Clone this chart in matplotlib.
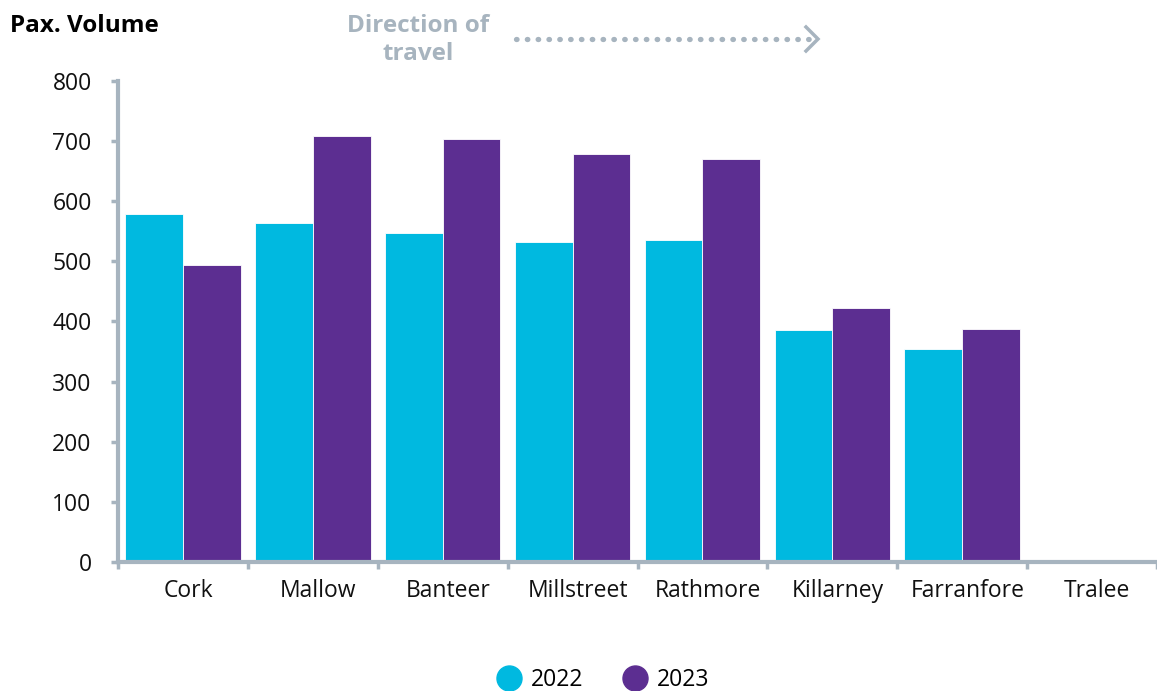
import matplotlib
matplotlib.use("Agg")
import matplotlib.pyplot as plt
from matplotlib.lines import Line2D
import numpy as np

categories = ["Cork", "Mallow", "Banteer", "Millstreet", "Rathmore", "Killarney", "Farranfore", "Tralee"]
vol_2022 = [579, 563, 548, 533, 536, 386, 355, 0]
vol_2023 = [494, 708, 703, 679, 671, 423, 388, 0]
series_labels = ["2022", "2023"]
yticks = [0, 100, 200, 300, 400, 500, 600, 700, 800]

c22 = "#00b9e0"
c23 = "#5c2e91"
grey = "#a7b4bf"

plt.rcParams['font.family'] = ['Open Sans', 'DejaVu Sans']

fig = plt.figure(figsize=(11.57, 6.91), dpi=100)
ax = fig.add_axes([0.102, 0.1867, 0.898, 0.6961])

x = np.arange(len(categories)) + 0.5
w = 0.445
ax.bar(x - w / 2, vol_2022, width=w, color=c22, edgecolor="white", linewidth=0.6, label=series_labels[0])
ax.bar(x + w / 2, vol_2023, width=w, color=c23, edgecolor="white", linewidth=0.6, label=series_labels[1])

ax.set_xlim(0, len(categories))
ax.set_ylim(0, 800)
ax.set_yticks(yticks)
ax.set_yticklabels([str(v) for v in yticks], fontsize=16.5, color="#111111")
ax.set_xticks(np.arange(len(categories) + 1))
ax.set_xticklabels([])
ax.set_xticks(x + 0.04, minor=True)
ax.set_xticklabels(categories, minor=True, fontsize=16.5, color="#111111")
ax.tick_params(axis="x", which="minor", length=0, pad=12)
ax.tick_params(axis="x", which="major", length=5, width=2.5, color=grey, direction="out")
ax.tick_params(axis="y", length=5, width=2.5, color=grey, direction="out", pad=14)

for s in ["top", "right"]:
    ax.spines[s].set_visible(False)
for s in ["left", "bottom"]:
    ax.spines[s].set_color(grey)
    ax.spines[s].set_linewidth(3)

# Titles
fig.text(10 / 1157, 1 - 26 / 691, "Pax. Volume", fontsize=17.5, fontweight="bold", color="#000000",
         ha="left", va="center")
fig.text(418 / 1157, 1 - 40 / 691, "Direction of\ntravel", fontsize=17.5, fontweight="bold", color=grey,
         ha="center", va="center", linespacing=1.2)

# Dotted arrow
W, H = 1157, 691
ln = Line2D([516 / W, 812 / W], [1 - 39 / H, 1 - 39 / H], transform=fig.transFigure,
            color=grey, linewidth=3.8, linestyle=(0, (0.1, 1.95)), dash_capstyle="round")
fig.add_artist(ln)
head = Line2D([806 / W, 818 / W, 806 / W], [1 - 27 / H, 1 - 39 / H, 1 - 51 / H], transform=fig.transFigure,
              color=grey, linewidth=2.5, solid_joinstyle="miter")
fig.add_artist(head)

# Legend
leg = fig.legend(handles=[Line2D([], [], marker="o", linestyle="none", markersize=18, color=c22, label=series_labels[0]),
                          Line2D([], [], marker="o", linestyle="none", markersize=18, color=c23, label=series_labels[1])],
                 loc="center", bbox_to_anchor=(0.519, 1 - 680 / 691), ncol=2, frameon=False, fontsize=16.5,
                 handletextpad=0.2, columnspacing=1.5, handlelength=1.5)

fig.savefig("out.png", dpi=100)
